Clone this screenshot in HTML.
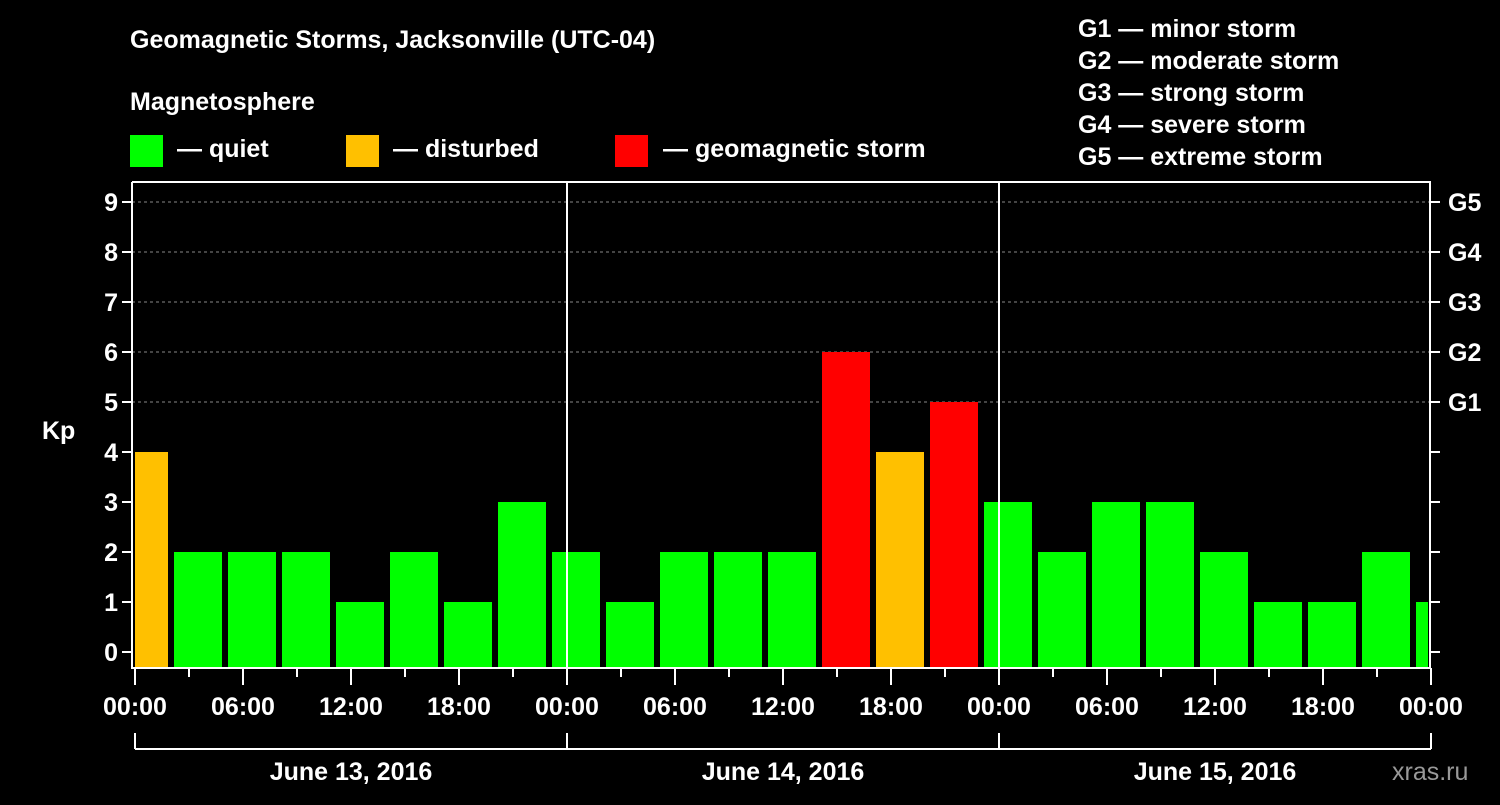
<!DOCTYPE html>
<html><head><meta charset="utf-8"><style>
body{margin:0;background:#000;width:1500px;height:800px;overflow:hidden}
svg text{font-family:"Liberation Sans",sans-serif;font-weight:bold;fill:#fff}
</style></head><body>
<svg id="c" width="1500" height="800">
<text x="130" y="48" font-size="25">Geomagnetic Storms, Jacksonville (UTC-04)</text>
<text x="130" y="110" font-size="25">Magnetosphere</text>
<rect x="130" y="135" width="33" height="32" fill="#00ff00"/>
<text x="177" y="157" font-size="25">— quiet</text>
<rect x="346" y="135" width="33" height="32" fill="#ffc000"/>
<text x="393" y="157" font-size="25">— disturbed</text>
<rect x="615" y="135" width="33" height="32" fill="#ff0000"/>
<text x="663" y="157" font-size="25">— geomagnetic storm</text>
<g font-size="25">
<text x="1078" y="37">G1 — minor storm</text>
<text x="1078" y="69">G2 — moderate storm</text>
<text x="1078" y="101">G3 — strong storm</text>
<text x="1078" y="133">G4 — severe storm</text>
<text x="1078" y="165">G5 — extreme storm</text>
</g>
<text x="42" y="439" font-size="25">Kp</text>
<text x="1392" y="780" font-size="25" fill="#999" style="fill:#999;font-weight:normal">xras.ru</text>
<g id="plot"></g>
</svg>
<script>
const values=[4,2,2,2,1,2,1,3,2,1,2,2,2,6,4,5,3,2,3,3,2,1,1,2,1];
const yTicks=[0,1,2,3,4,5,6,7,8,9];
const gLabels=["G1","G2","G3","G4","G5"];
const xLabels=["00:00","06:00","12:00","18:00","00:00","06:00","12:00","18:00","00:00","06:00","12:00","18:00","00:00"];
const days=["June 13, 2016","June 14, 2016","June 15, 2016"];
const NS="http://www.w3.org/2000/svg";
const g=document.getElementById('plot');
const X0=135,X1=1430,L=132,T=182,B=668;
const hx=h=>X0+h*(432/24);
const ky=k=>652-k*50;
function el(t,a){const e=document.createElementNS(NS,t);for(const k in a)e.setAttribute(k,a[k]);g.appendChild(e);return e;}
// clip
const defs=el('defs',{});const cp=document.createElementNS(NS,'clipPath');cp.setAttribute('id','cp');const cr=document.createElementNS(NS,'rect');
cr.setAttribute('x',X0);cr.setAttribute('y',T);cr.setAttribute('width',X1-2-X0);cr.setAttribute('height',B-T);cp.appendChild(cr);defs.appendChild(cp);
yTicks.forEach(k=>{
 if(k>=5){const l=el('line',{x1:L,x2:X1,y1:ky(k),y2:ky(k),stroke:'#888','stroke-dasharray':'3,3'});
 
 }
 const t1=el('line',{x1:L-10,x2:L,y1:ky(k),y2:ky(k),stroke:'#fff','stroke-width':2});
 
 
 const t2=el('line',{x1:X1,x2:X1+10,y1:ky(k),y2:ky(k),stroke:'#fff','stroke-width':2});
 
 
 const tx=el('text',{x:L-14,y:ky(k)+9,'text-anchor':'end','font-size':25});tx.textContent=k;
 
 
});
gLabels.forEach((s,i)=>{const tx=el('text',{x:X1+18,y:ky(i+5)+9,'font-size':25});tx.textContent=s;
 
 });
const bg=el('g',{'clip-path':'url(#cp)'});
values.forEach((v,i)=>{
 const c=v>=5?'#ff0000':v>=4?'#ffc000':'#00ff00';
 const cx=hx(i*3)+9;
 const r=document.createElementNS(NS,'rect');
 r.setAttribute('x',cx-24);r.setAttribute('width',48);r.setAttribute('y',ky(v));r.setAttribute('height',B-ky(v));r.setAttribute('fill',c);
 
 
 bg.appendChild(r);
});
[1,2].forEach(d=>{const l=el('line',{x1:hx(d*24),x2:hx(d*24),y1:T,y2:B,stroke:'#fff','stroke-width':2});
 
 });
const fr=el('polyline',{points:`${L},${T} ${L},${B} ${X1},${B} ${X1},${T} ${L},${T}`,fill:'none',stroke:'#fff','stroke-width':2});


for(let h=0;h<=72;h+=3){const maj=h%6==0;const l=el('line',{x1:hx(h),x2:hx(h),y1:B,y2:B+(maj?17:9),stroke:'#fff','stroke-width':2});
 
 }
xLabels.forEach((s,i)=>{const tx=el('text',{x:hx(i*6),y:715,'text-anchor':'middle','font-size':25});tx.textContent=s;
 
 });
el('line',{x1:hx(0),x2:hx(72),y1:749,y2:749,stroke:'#fff','stroke-width':2});
for(let d=0;d<=3;d++){const l=el('line',{x1:hx(d*24),x2:hx(d*24),y1:733,y2:749,stroke:'#fff','stroke-width':2});
 
 }
days.forEach((s,i)=>{const tx=el('text',{x:hx(i*24+12),y:780,'text-anchor':'middle','font-size':25});tx.textContent=s;
 
 });
</script>
</body></html>
